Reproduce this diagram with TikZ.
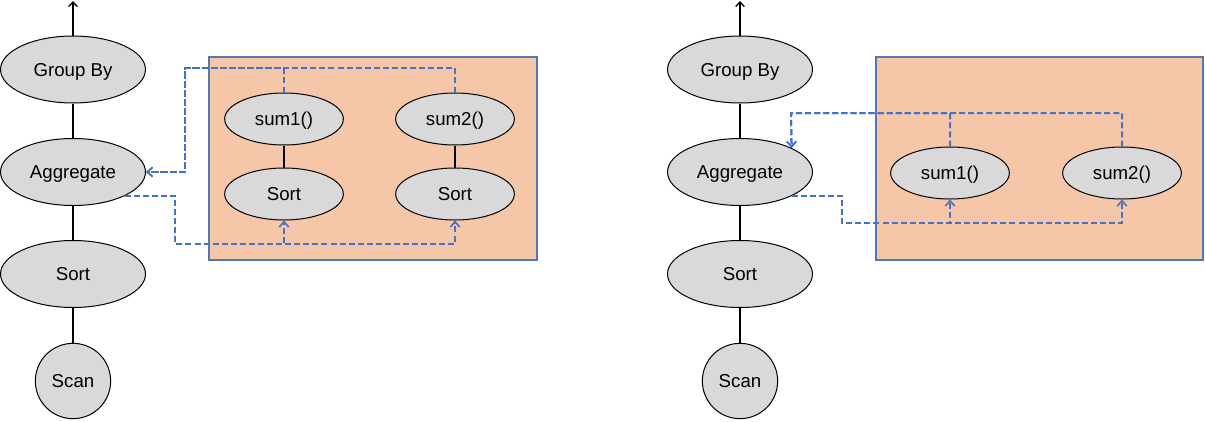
\documentclass[tikz,border=0pt]{standalone}
\usepackage{fontspec}
\setmainfont{Liberation Sans}
\usetikzlibrary{shapes.geometric,arrows.meta,calc}
\definecolor{nodegray}{HTML}{D9D9D9}
\definecolor{peach}{HTML}{F5C6A8}
\definecolor{boxedge}{HTML}{5079B0}
\definecolor{flow}{HTML}{4472C4}
\tikzset{
  txt/.style={font=\fontsize{14pt}{16pt}\selectfont, text height=11pt, text depth=1pt},
  opnode/.style={ellipse, draw=black, line width=0.75pt, fill=nodegray, inner sep=0pt,
    minimum width=108.75pt, minimum height=50.25pt, txt},
  subnode/.style={ellipse, draw=black, line width=0.75pt, fill=nodegray, inner sep=0pt,
    minimum width=89pt, minimum height=39pt, txt},
  scannode/.style={circle, draw=black, line width=0.75pt, fill=nodegray, inner sep=0pt,
    minimum size=56.5pt, txt},
  link/.style={draw=black, line width=1pt},
  flowline/.style={draw=flow, line width=1.5pt, dash pattern=on 4.5pt off 2.3pt},
  flowarrow/.style={flowline, -{Straight Barb[length=4pt,width=7pt,line width=1.2pt]}},
  region/.style={draw=boxedge, line width=0.9pt, fill=peach},
}
\begin{document}
\begin{tikzpicture}[x=0.75pt,y=-0.75pt]
\useasboundingbox (0,0) rectangle (1205,421);
% ---------- left ----------
\path[region] (209,57) rectangle (537,260);
\node[opnode] (GB1) at (73,69.5) {Group By};
\node[opnode] (Agg1) at (73,172) {Aggregate};
\node[opnode] (Sort1) at (73,274) {Sort};
\node[scannode] (Scan1) at (73,381) {Scan};
\coordinate (top1) at (73,1);
\draw[link, -{Straight Barb[length=3.5pt,width=6.5pt,line width=1pt]}] (GB1.north) -- (top1);
\draw[link] (GB1) -- (Agg1);
\draw[link] (Agg1) -- (Sort1);
\draw[link] (Sort1) -- (Scan1);
\node[subnode] (s1L) at (284,119) {sum1()};
\node[subnode] (s2L) at (455,119) {sum2()};
\node[subnode] (so1L) at (284,194) {Sort};
\node[subnode] (so2L) at (455,194) {Sort};
\draw[link] (s1L) -- (so1L);
\draw[link] (s2L) -- (so2L);
\coordinate (t1) at (185,68);
\coordinate (b1) at (175,244);
\draw[flowarrow] (s1L.north) |- (t1) |- (Agg1.east);
\draw[flowarrow] (s2L.north) |- (t1) |- (Agg1.east);
\draw[flowarrow] (Agg1.-25) -| (b1) -| (so1L.south);
\draw[flowarrow] (Agg1.-25) -| (b1) -| (so2L.south);
% ---------- right ----------
\path[region] (876,57) rectangle (1203,260);
\node[opnode] (GB2) at (740,69.5) {Group By};
\node[opnode] (Agg2) at (740,172) {Aggregate};
\node[opnode] (Sort2) at (740,274) {Sort};
\node[scannode] (Scan2) at (740,381) {Scan};
\coordinate (top2) at (740,1);
\draw[link, -{Straight Barb[length=3.5pt,width=6.5pt,line width=1pt]}] (GB2.north) -- (top2);
\draw[link] (GB2) -- (Agg2);
\draw[link] (Agg2) -- (Sort2);
\draw[link] (Sort2) -- (Scan2);
\node[subnode] (s1R) at (950,173) {sum1()};
\node[subnode] (s2R) at (1122,173) {sum2()};
\coordinate (t2) at (791,113);
\coordinate (b2) at (842,223);
\draw[flowarrow] (s1R.north) |- (t2) -- (Agg2.25);
\draw[flowarrow] (s2R.north) |- (t2) -- (Agg2.25);
\draw[flowarrow] (Agg2.-25) -| (b2) -| (s1R.south);
\draw[flowarrow] (Agg2.-25) -| (b2) -| (s2R.south);
\end{tikzpicture}
\end{document}
